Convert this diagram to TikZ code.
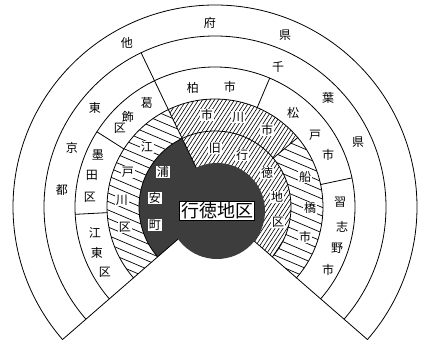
\documentclass[tikz,border=0pt]{standalone}
\usepackage{fontspec}
\newfontfamily\jp{Noto Sans CJK JP}
\def\annsec#1#2#3#4{(#1:#3pt) arc[start angle=#1,end angle=#2,radius=#3pt] -- (#2:#4pt) arc[start angle=#2,end angle=#1,radius=#4pt] -- cycle}
\begin{document}
\begin{tikzpicture}[x=1pt,y=1pt,
  edge/.style={line width=0.8pt,line cap=round},
  hd/.style={line width=0.6pt},
  hs/.style={line width=0.7pt},
  lab/.style={font=\jp\fontsize{12}{12}\selectfont, inner sep=0.8pt},
  labw/.style={lab, fill=white},
  corelab/.style={font=\jp\fontsize{18}{18}\selectfont, fill=white, draw=black, line width=0.8pt, inner sep=1.5pt},
  darkfill/.style={fill=black!76}]
\useasboundingbox (-215,-136) rectangle (208,207);
% dense hatching: Ichikawa + Gyotoku
\begin{scope}
  \clip (0,0) -- (-41:76pt) arc[start angle=-41,end angle=40,radius=76pt] -- (40:108pt) arc[start angle=40,end angle=115.6,radius=108pt] -- cycle;
  \foreach \i in {-204,-200,...,80} \draw[hd] (\i,-120) -- ++(57:300pt);
\end{scope}
% sparse hatching: Edogawa
\begin{scope}
  \clip \annsec{115.6}{221}{108}{76};
  \foreach \j in {-40,-31.5,...,260} \draw[hs] (-220,\j) -- ++(-23:480pt);
\end{scope}
% sparse hatching: Funabashi
\begin{scope}
  \clip \annsec{-41}{40}{108}{76};
  \foreach \j in {-40,-31.5,...,260} \draw[hs] (-220,\j) -- ++(-23:480pt);
\end{scope}
% dark Urayasu sector
\fill[darkfill] (0,0) -- (115.6:76pt) arc[start angle=115.6,end angle=221,radius=76pt] -- cycle;
% arcs
\foreach \r in {202,171,140,108,76}
  \draw[edge] (-41:\r pt) arc[start angle=-41,end angle=221,radius=\r pt];
% wedge lines
\coordinate (c0) at (0,0);
\coordinate (wl) at (221:202pt);
\coordinate (wr) at (-41:202pt);
\draw[edge] (wl) -- (c0);
\draw[edge] (wr) -- (c0);
% dividers
\draw[edge] (115.6:171pt) -- (c0);
\draw[edge] (67:140pt) -- (67:108pt);
\draw[edge] (12:140pt) -- (12:108pt);
\draw[edge] (147.5:140pt) -- (147.5:108pt);
\draw[edge] (183:140pt) -- (183:108pt);
\draw[edge] (40:108pt) -- (40:76pt);
% core circle
\fill[darkfill] (2,-4) circle[radius=48pt];
% labels outer ring
\node[lab] (o1) at (-88,164) {他};
\node[lab] (o2) at (-5,184) {府};
\node[lab] (o3) at (70,172) {県};
% ring 2
\node[lab] (t1) at (-120,99) {東};
\node[lab] (t2) at (-143,59) {京};
\node[lab] (t3) at (-153,17) {都};
\node[lab] (c1) at (63,140) {千};
\node[lab] (c2) at (113,109) {葉};
\node[lab] (c3) at (143,65) {県};
% ring 3
\node[lab] (k1) at (-22,119) {柏};
\node[lab] (k2) at (15,120) {市};
\node[lab] (m1) at (78,94) {松};
\node[lab] (m2) at (100,72) {戸};
\node[lab] (m3) at (113,52) {市};
\node[lab] (n1) at (125,5) {習};
\node[lab] (n2) at (127,-20) {志};
\node[lab] (n3) at (122,-41) {野};
\node[lab] (n4) at (113,-63) {市};
\node[lab] (ka1) at (-68,104) {葛};
\node[lab] (ka2) at (-87,90) {飾};
\node[lab] (ka3) at (-95,79) {区};
\node[lab] (s1) at (-117,52) {墨};
\node[lab] (s2) at (-123,32) {田};
\node[lab] (s3) at (-125,10) {区};
\node[lab] (e1) at (-120,-26) {江};
\node[lab] (e2) at (-118,-46) {東};
\node[lab] (e3) at (-110,-65) {区};
% ring 4
\node[labw] (d1) at (-68,60) {江};
\node[labw] (d2) at (-87,35) {戸};
\node[labw] (d3) at (-93,7) {川};
\node[labw] (d4) at (-90,-20) {区};
\node[labw] (i1) at (-8,92) {市};
\node[labw] (i2) at (23,90) {川};
\node[labw] (i3) at (52,77) {市};
\node[labw] (f1) at (90,30) {船};
\node[labw] (f2) at (95,-1) {橋};
\node[labw] (f3) at (90,-30) {市};
% ring 5
\node[labw] (g1) at (0,59) {旧};
\node[labw] (g2) at (27,52) {行};
\node[labw] (g3) at (52,34) {徳};
\node[labw] (g4) at (62,10) {地};
\node[labw] (g5) at (63,-15) {区};
\node[labw] (u1) at (-52,35) {浦};
\node[labw] (u2) at (-60,9) {安};
\node[labw] (u3) at (-60,-18) {町};
% core
\node[corelab] (core) at (2,-4) {行徳地区};
\end{tikzpicture}
\end{document}
